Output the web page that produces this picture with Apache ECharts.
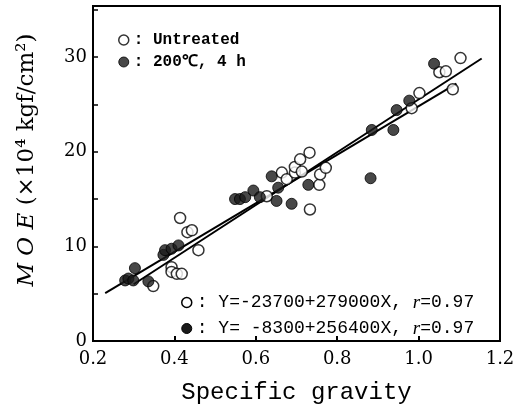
<!DOCTYPE html>
<html>
<head>
<meta charset="utf-8">
<script src="https://cdn.jsdelivr.net/npm/echarts@6/dist/echarts.min.js"></script>
<style>html,body{margin:0;padding:0;background:#fff;}#c{width:524px;height:410px;}</style>
</head>
<body>
<div id="c"></div>
<script>
// Specific gravity (x) vs MOE (x10^4 kgf/cm^2) (y)
const untreatedSG  = [0.348,0.393,0.393,0.406,0.418,0.414,0.432,0.443,0.459,0.627,0.664,0.676,0.696,0.696,0.709,0.713,0.732,0.733,0.756,0.758,0.772,0.983,1.002,1.051,1.067,1.084,1.103];
const untreatedMOE = [5.8,7.8,7.3,7.1,7.1,13.0,11.5,11.7,9.6,15.3,17.8,17.1,17.8,18.4,19.2,17.9,19.9,13.9,16.5,17.6,18.3,24.6,26.2,28.4,28.5,26.6,29.9];
const treatedSG  = [0.279,0.287,0.299,0.303,0.336,0.373,0.377,0.393,0.410,0.549,0.561,0.574,0.594,0.610,0.639,0.651,0.655,0.688,0.729,0.882,0.885,0.938,0.946,0.977,1.038];
const treatedMOE = [6.4,6.6,6.4,7.7,6.3,9.1,9.6,9.75,10.1,15.0,15.0,15.2,15.9,15.2,17.4,14.8,16.2,14.5,16.5,17.2,22.3,22.3,24.4,25.4,29.3];

const seriesNames = ['Untreated', '200\u2103, 4 h'];
const fitNames = ['Untreated fit', 'Treated fit'];
// Regression lines as printed: Y = a + bX (kgf/cm^2), plotted in units of 10^4
const fitIntercept = [-23700, -8300];
const fitSlope = [279000, 256400];
const fitXRange = [[0.30, 1.155], [0.23, 1.093]];
const fitR = ['0.97', '0.97'];
const eqText = ['Y=-23700+279000X, ', 'Y= -8300+256400X, '];

const xTickLabels = ['0.2','0.4','0.6','0.8','1.0','1.2'];
const yTickLabels = ['0','10','20','30'];

function pairs(xs, ys) { return xs.map((x, i) => [x, ys[i]]); }
function fitLine(k) {
  return fitXRange[k].map(x => [x, (fitIntercept[k] + fitSlope[k] * x) / 10000]);
}

const chart = echarts.init(document.getElementById('c'), null, {renderer: 'canvas'});
const openStyle = {color: '#fff', borderColor: '#000', borderWidth: 1.5};
const fillStyle = {color: '#1a1a1a', borderColor: '#000', borderWidth: 1};

chart.setOption({
  animation: false,
  backgroundColor: '#fff',
  grid: {left: 93, right: 24, top: 6, bottom: 65, show: true, borderColor: '#000', borderWidth: 2, backgroundColor: 'transparent'},
  xAxis: {
    type: 'value', min: 0.2, max: 1.2, interval: 0.2,
    axisLine: {lineStyle: {color: '#000', width: 2}},
    axisTick: {inside: true, length: 5, lineStyle: {color: '#000', width: 2}},
    splitLine: {show: false},
    axisLabel: {
      margin: 9, color: '#000', fontFamily: 'DejaVu Serif', fontSize: 18,
      formatter: v => { const s = v.toFixed(1); return xTickLabels.indexOf(s) >= 0 ? s : ''; }
    },
    name: 'Specific gravity', nameLocation: 'middle', nameGap: 40,
    nameTextStyle: {color: '#000', fontFamily: 'Liberation Mono', fontSize: 24}
  },
  yAxis: {
    type: 'value', min: 0, max: 35.4, interval: 5,
    axisLine: {lineStyle: {color: '#000', width: 2}},
    axisTick: {inside: true, length: 5, lineStyle: {color: '#000', width: 1.5}},
    splitLine: {show: false},
    axisLabel: {
      margin: 6, color: '#000', fontFamily: 'DejaVu Serif', fontSize: 18,
      formatter: v => { const s = String(Math.round(v)); return (Math.abs(v - Math.round(v)) < 1e-6 && yTickLabels.indexOf(s) >= 0) ? s : ''; }
    }
  },
  legend: [
    {
      data: [
        {name: seriesNames[0], icon: 'circle', itemStyle: openStyle},
        {name: seriesNames[1], icon: 'circle', itemStyle: fillStyle}
      ],
      orient: 'vertical', left: 113, top: 27, itemWidth: 10, itemHeight: 10, itemGap: 6,
      formatter: n => ': ' + n,
      textStyle: {color: '#000', fontFamily: 'Liberation Mono', fontWeight: 'bold', fontSize: 16}
    },
    {
      data: [
        {name: fitNames[0], icon: 'circle', itemStyle: openStyle},
        {name: fitNames[1], icon: 'circle', itemStyle: fillStyle}
      ],
      orient: 'vertical', left: 176, top: 288, itemWidth: 10, itemHeight: 10, itemGap: 7,
      formatter: n => { const k = fitNames.indexOf(n); return ': ' + eqText[k] + '{i|r}=' + fitR[k]; },
      textStyle: {
        color: '#000', fontFamily: 'Liberation Mono', fontSize: 18,
        rich: {i: {fontFamily: 'Liberation Serif', fontStyle: 'italic', fontSize: 19, color: '#000'}}
      }
    }
  ],
  graphic: [{
    type: 'text', x: 27, y: 160, rotation: Math.PI / 2,
    style: {
      text: '{i|M O E} (\u00d710\u2074 kgf/cm\u00b2)',
      align: 'center', verticalAlign: 'middle',
      fill: '#000', fontFamily: 'DejaVu Serif', fontSize: 23,
      rich: {i: {fontFamily: 'DejaVu Serif', fontStyle: 'italic', fontSize: 23, fill: '#000'}}
    }
  }],
  series: [
    {name: fitNames[0], type: 'line', data: fitLine(0), symbol: 'none', z: 2,
     lineStyle: {color: '#000', width: 2}, itemStyle: openStyle},
    {name: fitNames[1], type: 'line', data: fitLine(1), symbol: 'none', z: 2,
     lineStyle: {color: '#000', width: 2}, itemStyle: fillStyle},
    {name: seriesNames[0], type: 'scatter', data: pairs(untreatedSG, untreatedMOE), symbol: 'circle', symbolSize: 11, z: 3,
     itemStyle: openStyle},
    {name: seriesNames[1], type: 'scatter', data: pairs(treatedSG, treatedMOE), symbol: 'circle', symbolSize: 11, z: 4,
     itemStyle: fillStyle}
  ]
});
</script>
</body>
</html>
